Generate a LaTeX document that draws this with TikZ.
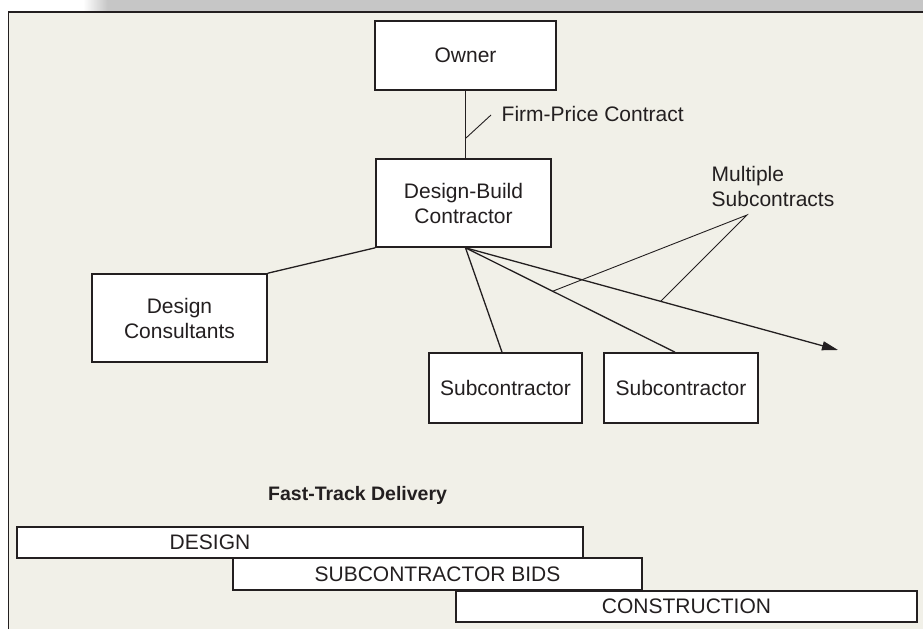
\documentclass[tikz,border=0pt]{standalone}
\usepackage{fontspec}
\setmainfont{Liberation Sans}
\usetikzlibrary{arrows.meta,calc}
\definecolor{ink}{RGB}{35,31,32}
\definecolor{paper}{RGB}{241,240,232}
\definecolor{band}{RGB}{198,198,198}
\begin{document}
\begin{tikzpicture}[x=1pt,y=-1pt,
  every node/.style={text=ink},
  box/.style={draw=ink, line width=1.6pt, fill=white, inner sep=0pt, align=center, font=\fontsize{21}{25}\selectfont},
  bar/.style={draw=ink, line width=1.6pt, fill=white, inner sep=0pt, font=\fontsize{21}{25}\selectfont},
  link/.style={draw=ink, line width=1.3pt},
  thinlink/.style={draw=ink, line width=0.9pt},
  lbl/.style={font=\fontsize{21}{25}\selectfont, inner sep=0pt}
]
% background and frame
\useasboundingbox (0,0) rectangle (923,629);
\fill[white] (0,0) rectangle (923,629);
\fill[band] (107,0) rectangle (923,11.5);
\shade[left color=white, right color=band] (83,0) rectangle (107.5,11.5);
\fill[paper] (8,11.5) rectangle (923,629);
\draw[ink, line width=1.6pt] (8.5,629) -- (8.5,12.2) -- (923,12.2);

% boxes
\node[box, minimum width=181pt, minimum height=69pt] (owner) at (465.5,55.5) {Owner};
\node[box, minimum width=175pt, minimum height=88pt] (dbc) at (463.5,203) {Design-Build\\Contractor};
\node[box, minimum width=175pt, minimum height=88pt] (dc) at (179.5,318) {Design\\Consultants};
\node[box, minimum width=153pt, minimum height=70pt] (sub1) at (505.5,388) {Subcontractor};
\node[box, minimum width=154pt, minimum height=70pt] (sub2) at (681,388) {Subcontractor};

% connectors
\coordinate (hub) at (owner.south |- dbc.south);
\coordinate (arrowend) at (838,350);
\coordinate (s1top) at ([xshift=-3.5pt]sub1.north);
\coordinate (s2top) at ([xshift=-6pt]sub2.north);
\draw[link] (owner.south) -- (owner.south |- dbc.north);
\draw[link] (dc.north east) -- (dbc.south west);
\draw[link] (hub) -- (s1top);
\draw[link] (hub) -- (s2top);
\draw[link, -{Triangle[length=16pt,width=9pt]}] (hub) -- (arrowend);

% labels
\coordinate (fpA) at (466,138);
\coordinate (fpB) at (491,115);
\draw[thinlink] (fpA) -- (fpB);
\node[lbl, anchor=base west] (fpc) at (501.5,121) {Firm-Price Contract};

\coordinate (apex) at (747,215);
\coordinate (m1) at ($(hub)!0.416!(s2top)$);
\coordinate (m2) at ($(hub)!0.524!(arrowend)$);
\draw[thinlink] (m1) -- (apex) -- (m2);
\node[lbl, anchor=north west, align=left] (msc) at (711.5,166) {Multiple\\Subcontracts};

% fast-track schedule
\node[anchor=base west, inner sep=0pt, font=\bfseries\fontsize{19.5}{23}\selectfont] (ftd) at (268,500.7) {Fast-Track Delivery};
\node[bar, minimum width=566pt, minimum height=31pt, label={[lbl, xshift=-90pt]center:DESIGN}] (design) at (300,542.5) {};
\node[bar, minimum width=409pt, minimum height=32pt] (bids) at (437.5,574) {SUBCONTRACTOR BIDS};
\node[bar, minimum width=461pt, minimum height=31pt] (constr) at (686.5,606.5) {CONSTRUCTION};
\end{tikzpicture}
\end{document}
